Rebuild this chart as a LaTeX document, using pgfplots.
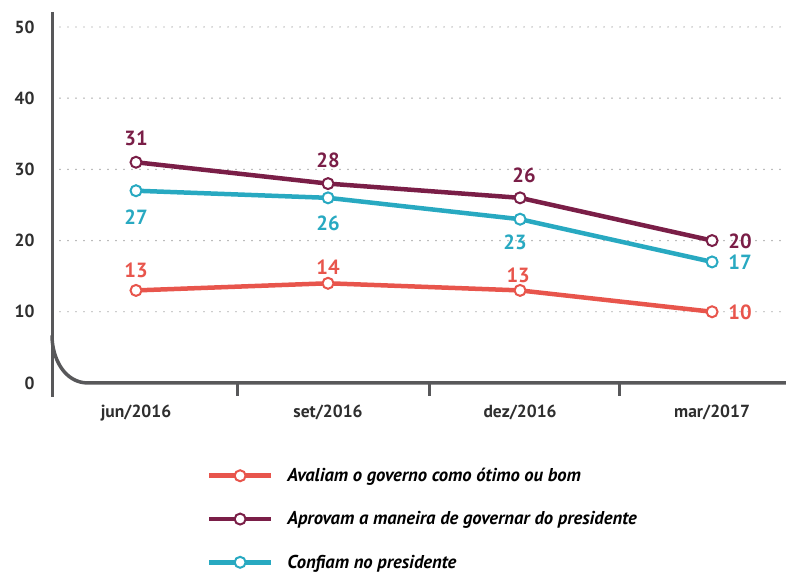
\documentclass[border=0pt]{standalone}
\usepackage{fontspec}
\setmainfont{PT Sans}
\usepackage{pgfplots}
\pgfplotsset{compat=1.18}
\definecolor{redc}{HTML}{E8554C}
\definecolor{maroon}{HTML}{7A1E47}
\definecolor{tealc}{HTML}{28A9C1}
\definecolor{axisgray}{HTML}{58585A}
\definecolor{labgray}{HTML}{2E2E2E}
\definecolor{gridgray}{HTML}{8A8A8A}
\begin{document}
\begin{tikzpicture}[x=1pt,y=1pt]
\path[use as bounding box] (0,0) rectangle (786,576);
\begin{axis}[
  at={(52pt,179pt)}, anchor=south west,
  scale only axis, width=734pt, height=385pt,
  xmin=-0.4375, xmax=3.385, ymin=-1.97, ymax=52.1,
  clip=false,
  axis line style={draw=none},
  major tick length=0pt,
  xtick={0,1,2,3},
  xticklabels={jun/2016,set/2016,dez/2016,mar/2017},
  ytick={10,20,30,40,50},
  extra y ticks={0},
  extra tick style={grid=none},
  ymajorgrids,
  grid style={gridgray, line width=1.4pt, line cap=round, dash pattern=on 0pt off 8pt},
  /pgf/number format/assume math mode=true,
  ticklabel style={font=\bfseries\fontsize{17.5}{17.5}\selectfont, text=labgray},
  yticklabel style={xshift=-14pt},
  xticklabel style={yshift=-4pt},
  legend style={at={(axis description cs:0.211,-0.18)}, anchor=north west,
    draw=none, fill=none, font=\bfseries\itshape\fontsize{18.6}{18.6}\selectfont,
    row sep=24.5pt, inner sep=0pt, outer sep=0pt,
    /tikz/every odd column/.append style={column sep=12pt}},
  legend cell align=left,
  legend image code/.code={
    \draw[mark repeat=2,mark phase=2,#1] plot coordinates {(0pt,0pt) (31pt,0pt) (62pt,0pt)};
  },
  every axis plot/.append style={line width=4.5pt, mark=*, mark size=5.5pt},
]
% axis frame
\draw[axisgray, line width=3pt] (axis cs:-0.4375,52.1) -- (axis cs:-0.4375,-1.97);
\draw[axisgray, line width=3.5pt] (axis cs:-0.4375,6.7) to[out=-90,in=180] (axis cs:-0.25,0) -- (axis cs:3.385,0);
\draw[axisgray, line width=3pt] (axis cs:0.53,0) -- (axis cs:0.53,-1.85);
\draw[axisgray, line width=3pt] (axis cs:1.53,0) -- (axis cs:1.53,-1.85);
\draw[axisgray, line width=3pt] (axis cs:2.52,0) -- (axis cs:2.52,-1.85);
\addplot[redc, mark options={fill=white, draw=redc, line width=2pt}] coordinates {(0,13) (1,14) (2,13) (3,10)};
\addlegendentry{Avaliam o governo como ótimo ou bom}
\addplot[maroon, mark options={fill=white, draw=maroon, line width=2pt}] coordinates {(0,31) (1,28) (2,26) (3,20)};
\addlegendentry{Aprovam a maneira de governar do presidente}
\addplot[tealc, mark options={fill=white, draw=tealc, line width=2pt}] coordinates {(0,27) (1,26) (2,23) (3,17)};
\addlegendentry{Confiam no presidente}
% value labels
\begin{scope}[every node/.style={font=\bfseries\fontsize{20.5}{20.5}\selectfont, anchor=center, inner sep=0pt}]
\node[text=maroon] at (axis cs:0,34.41) {31};
\node[text=maroon] at (axis cs:1,31.32) {28};
\node[text=maroon] at (axis cs:2.021,29.21) {26};
\node[text=maroon] at (axis cs:3.146,19.94) {20};
\node[text=tealc] at (axis cs:0,23.31) {27};
\node[text=tealc] at (axis cs:1,22.47) {26};
\node[text=tealc] at (axis cs:1.974,19.80) {23};
\node[text=tealc] at (axis cs:3.146,16.99) {17};
\node[text=redc] at (axis cs:0,15.87) {13};
\node[text=redc] at (axis cs:1,16.29) {14};
\node[text=redc] at (axis cs:1.99,15.17) {13};
\node[text=redc] at (axis cs:3.146,9.97) {10};
\end{scope}
\end{axis}
\end{tikzpicture}
\end{document}
